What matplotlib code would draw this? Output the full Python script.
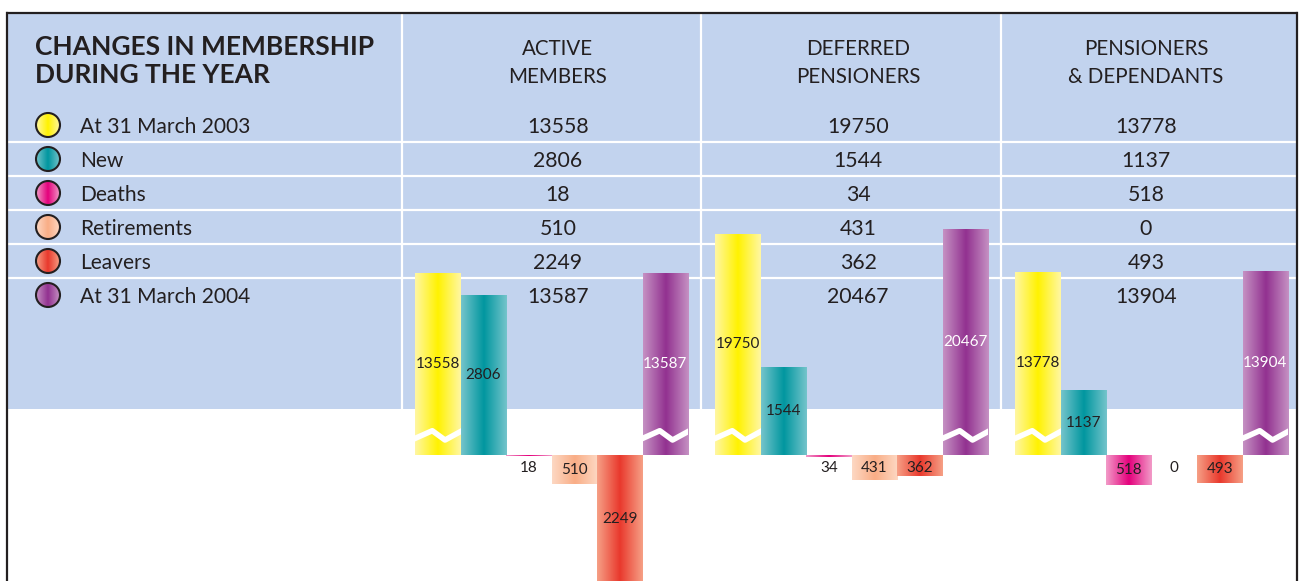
import numpy as np
import matplotlib.pyplot as plt
from matplotlib.colors import LinearSegmentedColormap
from matplotlib.patches import Circle, Rectangle

plt.rcParams['font.family'] = ['Lato', 'DejaVu Sans']

# ---- data ----
title_lines = ['CHANGES IN MEMBERSHIP', 'DURING THE YEAR']
categories = ['At 31 March 2003', 'New', 'Deaths', 'Retirements', 'Leavers', 'At 31 March 2004']
groups = ['ACTIVE\nMEMBERS', 'DEFERRED\nPENSIONERS', 'PENSIONERS\n& DEPENDANTS']
active = [13558, 2806, 18, 510, 2249, 13587]
deferred = [19750, 1544, 34, 431, 362, 20467]
pensioners = [13778, 1137, 518, 0, 493, 13904]
# 0 = opening/closing total (broken bar), +1 adds members, -1 removes them
direction = [0, 1, -1, -1, -1, 0]

edge_colors = ['#fff7a3', '#74c4cb', '#f29bc8', '#fdd8c3', '#f6a086', '#c591c3']
centre_colors = ['#fff200', '#00969f', '#e4007c', '#f9ad86', '#e9382c', '#923190']
label_colors = ['#231f20'] * 5 + ['white']

TEXT = '#231f20'
PANEL = '#c2d3ee'

# broken axis for the totals: compress everything above the break
def broken(v):
    return 3198 + (v - 13707) * 0.1114

fig = plt.figure(figsize=(13.02, 5.81), dpi=100)

# background / table layer in pixel coords
bg = fig.add_axes([0, 0, 1, 1])
bg.set_xlim(0, 1302)
bg.set_ylim(581, 0)
bg.axis('off')

bg.add_patch(Rectangle((7, 14), 1290, 395, fc=PANEL, ec='none', zorder=0))
row_y = [125 + 34 * i for i in range(len(categories))]
for y in row_y[:-1]:
    bg.plot([7, 1297], [y + 17, y + 17], color='white', lw=1.6, zorder=1)
for x in [401.5, 701, 1001]:
    bg.plot([x, x], [14, 409], color='white', lw=1.6, zorder=1)

# frame
bg.plot([6, 1298], [13, 13], color=TEXT, lw=1.6, zorder=3, solid_capstyle='butt')
bg.plot([7, 7], [13, 581], color=TEXT, lw=1.6, zorder=3)
bg.plot([1297, 1297], [13, 581], color=TEXT, lw=1.6, zorder=3)

for i, line in enumerate(title_lines):
    bg.text(35, 55 + 28 * i, line, fontsize=19, fontweight='bold', color=TEXT, va='baseline')

col_x = [558, 858, 1146]
for cx, g in zip(col_x, groups):
    for j, line in enumerate(g.split('\n')):
        bg.text(cx, 55 + 28 * j, line, fontsize=14.8, color=TEXT, ha='center', va='baseline')


def gradient_cmap(edge, centre):
    return LinearSegmentedColormap.from_list('g', [edge, centre, edge])


grad = np.linspace(0, 1, 128)[np.newaxis, :]

for i, (cat, y) in enumerate(zip(categories, row_y)):
    circ = Circle((48, y), 12, fc='none', ec=TEXT, lw=1.5, zorder=4)
    bg.add_patch(circ)
    im = bg.imshow(grad, cmap=gradient_cmap(edge_colors[i], centre_colors[i]),
                   extent=[36, 60, y + 12, y - 12], aspect='auto', zorder=3)
    im.set_clip_path(circ)
    bg.text(80, y + 8, cat, fontsize=15.1, color=TEXT, va='baseline')
    for cx, vals in zip(col_x, [active, deferred, pensioners]):
        bg.text(cx, y + 8, str(vals[i]), fontsize=15.3, color=TEXT, ha='center', va='baseline')
bg.set_xlim(0, 1302)
bg.set_ylim(581, 0)

# ---- bar layer ----
ax = fig.add_axes([0, 0, 1, 1])
ax.patch.set_visible(False)
ax.axis('off')

group_step = 300 / 45.5
for g, vals in enumerate([active, deferred, pensioners]):
    xs = g * group_step + np.arange(len(vals))
    heights = [broken(v) if d == 0 else d * v for v, d in zip(vals, direction)]
    bars = ax.bar(xs, heights, width=1.0, color='none', edgecolor='none', zorder=2)
    for i, (rect, v, h) in enumerate(zip(bars, vals, heights)):
        x0 = rect.get_x()
        im = ax.imshow(grad, cmap=gradient_cmap(edge_colors[i], centre_colors[i]),
                       extent=[x0, x0 + 1, 0, h if h != 0 else 1e-6], aspect='auto', zorder=2)
        im.set_clip_path(rect)
        if direction[i] == 0:
            zz, = ax.plot(xs[i] + np.array([-0.5, -0.12, 0.16, 0.5]), [290, 425, 262, 410],
                          color='white', lw=4, zorder=3)
            zz.set_clip_path(rect)
        ly = h / 2 if direction[i] >= 0 else -max(v, 460) / 2
        ax.text(xs[i], ly, str(v), fontsize=11, color=label_colors[i],
                ha='center', va='center', zorder=4)

ax.set_xlim(-0.5 - 415 / 45.5, -0.5 + (1302 - 415) / 45.5)
ax.set_ylim(-126 * 17.5, 455 * 17.5)

fig.savefig('out.png', dpi=100)
